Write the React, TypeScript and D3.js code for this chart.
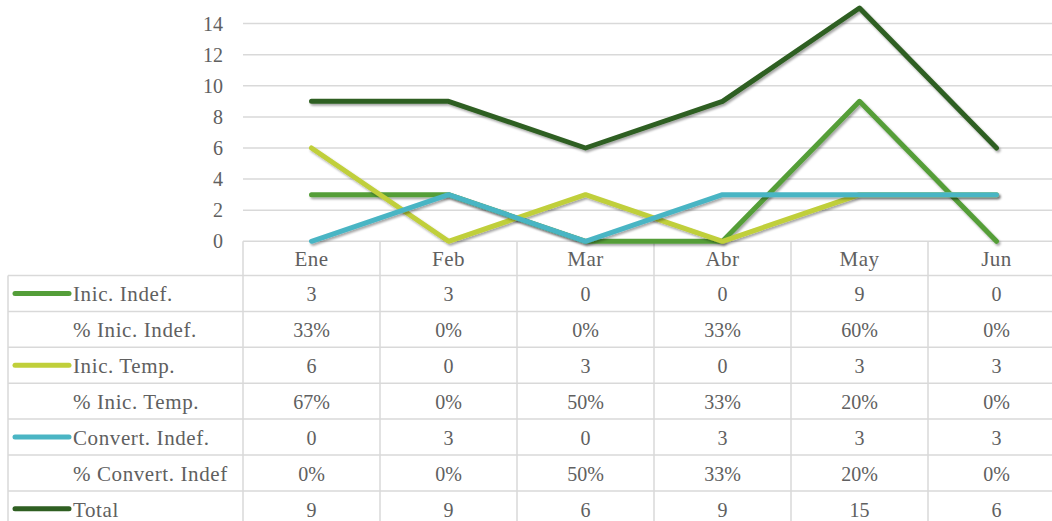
import React from 'react';
import * as d3 from 'd3';

const months = ['Ene', 'Feb', 'Mar', 'Abr', 'May', 'Jun'];
const inicIndef = [3, 3, 0, 0, 9, 0];
const pctInicIndef = ['33%', '0%', '0%', '33%', '60%', '0%'];
const inicTemp = [6, 0, 3, 0, 3, 3];
const pctInicTemp = ['67%', '0%', '50%', '33%', '20%', '0%'];
const convIndef = [0, 3, 0, 3, 3, 3];
const pctConvIndef = ['0%', '0%', '50%', '33%', '20%', '0%'];
const total = [9, 9, 6, 9, 15, 6];
const yTicks = [0, 2, 4, 6, 8, 10, 12, 14];

// table rows, in the order they appear
const rows = [
  { label: 'Inic. Indef.', values: inicIndef.map(String), color: '#549E39', line: inicIndef },
  { label: '% Inic. Indef.', values: pctInicIndef, color: null, line: null },
  { label: 'Inic. Temp.', values: inicTemp.map(String), color: '#C0CF3A', line: inicTemp },
  { label: '% Inic. Temp.', values: pctInicTemp, color: null, line: null },
  { label: 'Convert. Indef.', values: convIndef.map(String), color: '#4AB5C4', line: convIndef },
  { label: '% Convert. Indef', values: pctConvIndef, color: null, line: null },
  { label: 'Total', values: total.map(String), color: '#2F5F22', line: total },
];

const W = 1052;
const H = 521;
const plotLeft = 243;
const plotRight = 1065;
const tableLeft = 8;
const headerTop = 241.3;
const rowTop = 275.5;
const rowH = 35.9;
const gridColor = '#D9D9D9';
const textColor = '#606060';
const font = "'Liberation Serif', 'DejaVu Serif', serif";
const fs = 20;

export default function App() {
  const x = d3.scaleBand<string>().domain(months).range([plotLeft, plotRight]);
  const y = d3.scaleLinear().domain([0, 14]).range([241.3, 23.6]);
  const cx = (m: string) => (x(m) as number) + x.bandwidth() / 2;

  const line = d3.line<number>()
    .x((_, i) => cx(months[i]))
    .y(d => y(d));

  const series = rows.filter(r => r.line);
  const tableBottom = rowTop + rowH * rows.length;

  const T = (props: any) => (
    <text fontFamily={font} fontSize={fs} fill={textColor} dominantBaseline="central" {...props} />
  );

  return (
    <svg width={W} height={H} style={{ position: 'absolute', left: 0, top: 0 }}>
      <defs>
        <filter id="shadow" x="-10%" y="-10%" width="120%" height="130%">
          <feDropShadow dx="1.5" dy="2" stdDeviation="1.2" floodColor="#000" floodOpacity="0.35" />
        </filter>
      </defs>
      <rect width={W} height={H} fill="#fff" />

      {/* gridlines */}
      {yTicks.map(t => (
        <line key={t} x1={plotLeft} x2={W} y1={y(t)} y2={y(t)} stroke={gridColor} strokeWidth={1.5} />
      ))}
      {yTicks.map(t => (
        <T key={'l' + t} x={223} y={y(t)} textAnchor="end">{t}</T>
      ))}

      {/* table grid */}
      {months.map(m => (
        <line key={'v' + m} x1={x(m)} x2={x(m)} y1={headerTop} y2={tableBottom} stroke={gridColor} strokeWidth={1.5} />
      ))}
      <line x1={tableLeft} x2={tableLeft} y1={rowTop} y2={tableBottom} stroke={gridColor} strokeWidth={1.5} />
      {rows.map((r, i) => (
        <line key={'h' + i} x1={tableLeft} x2={W} y1={rowTop + i * rowH} y2={rowTop + i * rowH} stroke={gridColor} strokeWidth={1.5} />
      ))}

      {/* header months */}
      {months.map(m => (
        <T key={'m' + m} x={cx(m)} y={(headerTop + rowTop) / 2 + 1} textAnchor="middle"
          fontSize={21} letterSpacing={0.5}>{m}</T>
      ))}

      {/* table rows */}
      {rows.map((r, i) => {
        const cy = rowTop + i * rowH + rowH / 2 + 1;
        return (
          <g key={'r' + i}>
            {r.color && (
              <line x1={15} x2={69} y1={cy - 1} y2={cy - 1} stroke={r.color} strokeWidth={5} strokeLinecap="round" />
            )}
            <T x={73} y={cy} fontSize={21} letterSpacing={0.6}>{r.label}</T>
            {r.values.map((v, j) => (
              <T key={j} x={cx(months[j])} y={cy} textAnchor="middle">{v}</T>
            ))}
          </g>
        );
      })}

      {/* lines */}
      {series.map(s => (
        <path key={s.label} d={line(s.line as number[]) || ''} fill="none" stroke={s.color as string}
          strokeWidth={5} strokeLinecap="round" strokeLinejoin="round" filter="url(#shadow)" />
      ))}
    </svg>
  );
}
